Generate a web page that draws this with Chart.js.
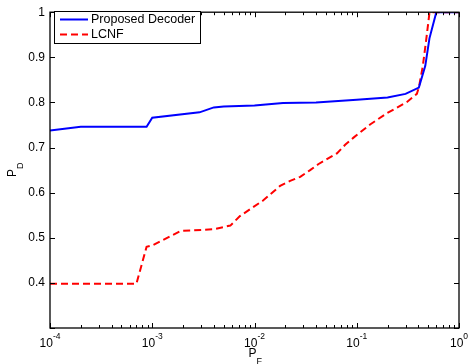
<!DOCTYPE html>
<html>
<head>
<meta charset="utf-8">
<script src="https://cdn.jsdelivr.net/npm/chart.js@4/dist/chart.umd.min.js"></script>
<style>
  html, body { margin: 0; padding: 0; background: #fff; }
  #wrap { width: 469px; height: 364px; }
</style>
</head>
<body>
<div id="wrap"><canvas id="myChart"></canvas></div>
<script>
// values
const decoderPF = [1e-4, 2e-4, 8.8e-4, 1e-3, 2.9e-3, 4e-3, 5e-3, 1e-2, 0.019, 0.04, 0.1, 0.2, 0.3, 0.405, 0.468, 0.514, 0.6, 1];
const decoderPD = [0.738, 0.746, 0.746, 0.766, 0.778, 0.789, 0.791, 0.793, 0.799, 0.800, 0.806, 0.811, 0.819, 0.833, 0.881, 0.942, 1.0, 1.0];

const lcnfPF = [1e-4, 7e-4, 8.8e-4, 1e-3, 1.9e-3, 4e-3, 5.8e-3, 7.2e-3, 0.0122, 0.0178, 0.0223, 0.028, 0.035, 0.042, 0.064, 0.077, 0.093, 0.135, 0.197, 0.31, 0.387, 0.405, 0.443, 0.478, 0.515, 1];
const lcnfPD = [0.398, 0.398, 0.48, 0.483, 0.515, 0.519, 0.527, 0.548, 0.583, 0.615, 0.626, 0.635, 0.65, 0.663, 0.687, 0.706, 0.722, 0.751, 0.776, 0.801, 0.819, 0.833, 0.881, 0.939, 1.0, 1.0];

const xTickExps = [-4, -3, -2, -1, 0];
const yTicks = [0.3, 0.4, 0.5, 0.6, 0.7, 0.8, 0.9, 1];

const FONT = "Liberation Sans, Arial, Helvetica, sans-serif";

function toPoints(xs, ys) {
  return xs.map((x, i) => ({ x: x, y: ys[i] }));
}

// frame, inward ticks, x labels with exponents, axis titles, legend
const matlabAxes = {
  id: "matlabAxes",
  afterDraw(chart) {
    const ctx = chart.ctx;
    const a = chart.chartArea;
    const xs = chart.scales.x;
    const ys = chart.scales.y;
    ctx.save();
    ctx.strokeStyle = "#000";
    ctx.lineWidth = 1;

    // ticks
    ctx.beginPath();
    for (let e = -4; e <= 0; e++) {
      const px = Math.round(xs.getPixelForValue(Math.pow(10, e))) + 0.5;
      ctx.moveTo(px, a.bottom); ctx.lineTo(px, a.bottom - 5);
      ctx.moveTo(px, a.top); ctx.lineTo(px, a.top + 5);
      if (e < 0) {
        for (let m = 2; m <= 9; m++) {
          const mx = Math.round(xs.getPixelForValue(m * Math.pow(10, e))) + 0.5;
          ctx.moveTo(mx, a.bottom); ctx.lineTo(mx, a.bottom - 3);
          ctx.moveTo(mx, a.top); ctx.lineTo(mx, a.top + 3);
        }
      }
    }
    yTicks.forEach((v) => {
      const py = Math.round(ys.getPixelForValue(v)) + 0.5;
      ctx.moveTo(a.left, py); ctx.lineTo(a.left + 5, py);
      ctx.moveTo(a.right, py); ctx.lineTo(a.right - 5, py);
    });
    ctx.stroke();

    // frame
    ctx.lineWidth = 1.3;
    ctx.strokeRect(a.left, a.top, a.right - a.left, a.bottom - a.top);

    // x tick labels 10^e
    ctx.fillStyle = "#000";
    ctx.textBaseline = "alphabetic";
    ctx.textAlign = "left";
    xTickExps.forEach((e) => {
      const px = xs.getPixelForValue(Math.pow(10, e));
      ctx.font = "12px " + FONT;
      const wBase = ctx.measureText("10").width;
      ctx.font = "8.5px " + FONT;
      const sup = e === 0 ? "0" : "-" + Math.abs(e);
      const wSup = ctx.measureText(sup).width;
      const x0 = px - (wBase + wSup) / 2;
      ctx.font = "12px " + FONT;
      ctx.fillText("10", x0, 347);
      ctx.font = "8.5px " + FONT;
      ctx.fillText(sup, x0 + wBase, 339);
    });

    // x title P_F
    ctx.font = "12px " + FONT;
    const cx = (a.left + a.right) / 2;
    ctx.fillText("P", cx - 6, 357);
    ctx.font = "9px " + FONT;
    ctx.fillText("F", cx + 2, 364);

    // y title P_D
    ctx.save();
    ctx.translate(16, (a.top + a.bottom) / 2 + 7);
    ctx.rotate(-Math.PI / 2);
    ctx.font = "12px " + FONT;
    ctx.fillText("P", 0, 0);
    ctx.font = "9px " + FONT;
    ctx.fillText("D", 8, 7);
    ctx.restore();

    // legend
    const lx = 54, ly = 11, lw = 146, lh = 32;
    ctx.fillStyle = "#fff";
    ctx.fillRect(lx, ly, lw, lh);
    ctx.lineWidth = 1;
    ctx.strokeStyle = "#000";
    ctx.strokeRect(lx + 0.5, ly + 0.5, lw, lh);
    chart.data.datasets.forEach((ds, i) => {
      const ry = 19.5 + i * 15;
      ctx.beginPath();
      ctx.strokeStyle = ds.borderColor;
      ctx.lineWidth = 2;
      ctx.setLineDash(ds.borderDash || []);
      ctx.moveTo(60, ry);
      ctx.lineTo(88, ry);
      ctx.stroke();
      ctx.setLineDash([]);
      ctx.fillStyle = "#000";
      ctx.font = "12.5px " + FONT;
      ctx.textBaseline = "middle";
      ctx.fillText(ds.label, 91, ry);
    });
    ctx.restore();
  },
};

const ctx = document.getElementById("myChart").getContext("2d");
const myChart = new Chart(ctx, {
  type: "scatter",
  data: {
    datasets: [
      {
        label: "Proposed Decoder",
        data: toPoints(decoderPF, decoderPD),
        showLine: true,
        borderColor: "#0000ff",
        borderWidth: 2,
        pointRadius: 0,
        tension: 0,
      },
      {
        label: "LCNF",
        data: toPoints(lcnfPF, lcnfPD),
        showLine: true,
        borderColor: "#ff0000",
        borderWidth: 2,
        borderDash: [7, 4],
        pointRadius: 0,
        tension: 0,
      },
    ],
  },
  options: {
    responsive: true,
    maintainAspectRatio: false,
    animation: false,
    layout: { padding: { top: 5, right: 10, left: 0, bottom: 0 } },
    plugins: {
      legend: { display: false },
      tooltip: { enabled: false },
    },
    scales: {
      x: {
        type: "logarithmic",
        min: 1e-4,
        max: 1,
        border: { display: false },
        grid: { display: false },
        ticks: { display: false },
        afterFit: (scale) => { scale.height = 36; },
      },
      y: {
        min: 0.3,
        max: 1,
        border: { display: false },
        grid: { display: false, drawTicks: false },
        ticks: {
          stepSize: 0.1,
          padding: 5,
          color: "#000",
          font: { family: FONT, size: 12 },
          callback: (v) => {
            const r = Math.round(v * 10) / 10;
            if (r === 0.3) return "";
            return r === 1 ? "1" : r.toFixed(1);
          },
        },
        afterFit: (scale) => { scale.width = 50; },
      },
    },
  },
  plugins: [matlabAxes],
});
</script>
</body>
</html>
